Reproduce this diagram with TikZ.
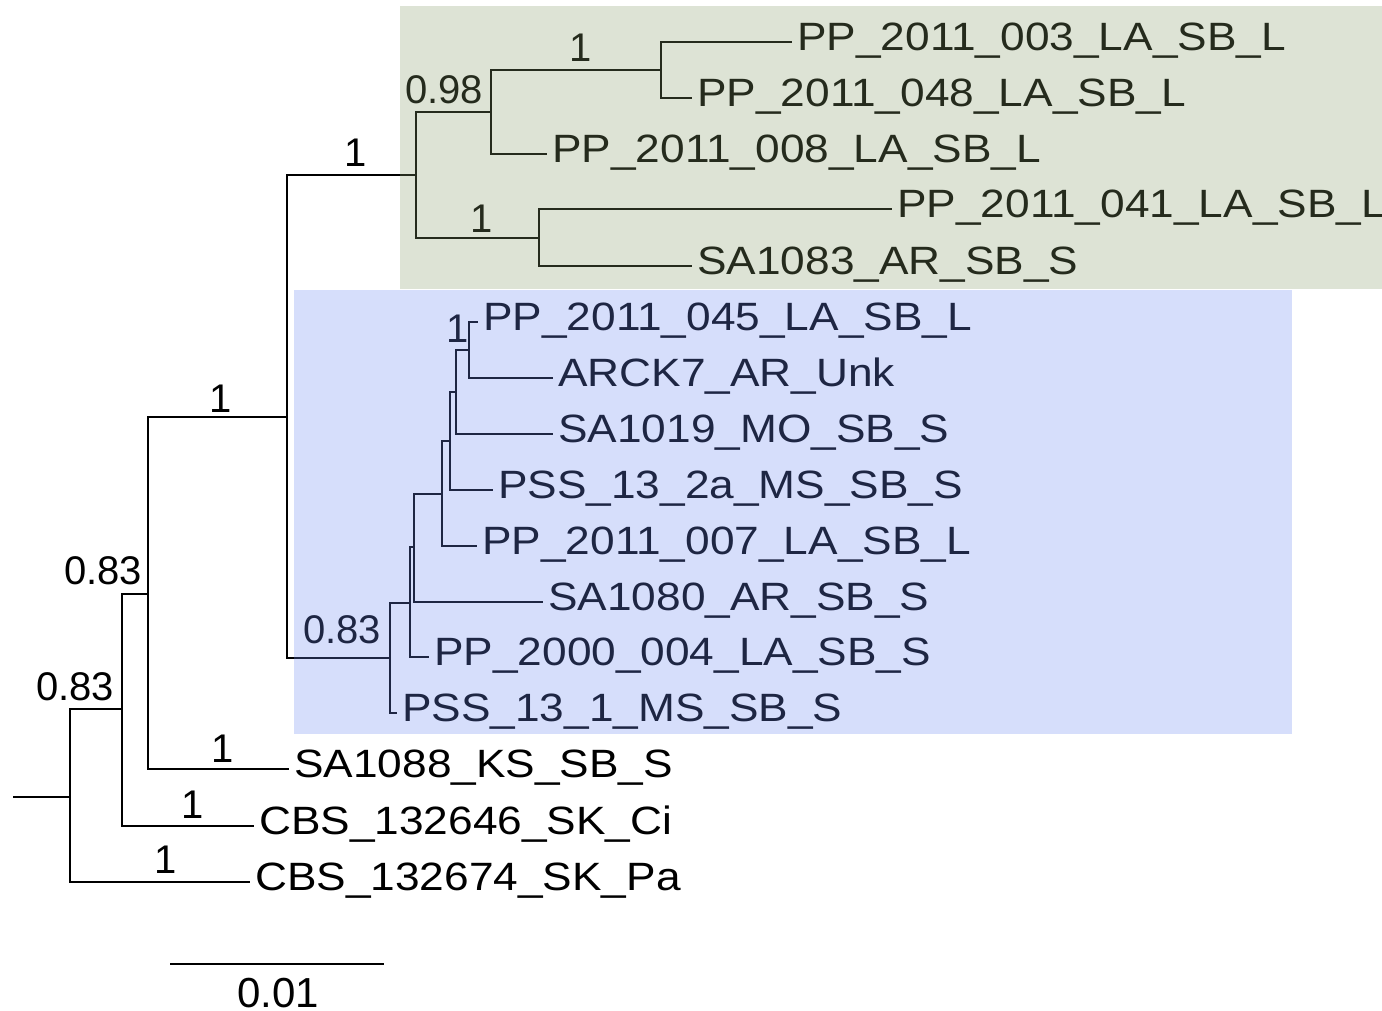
\documentclass[tikz,border=0pt]{standalone}
\usepackage{fontspec}
\setmainfont{Liberation Sans}
\newfontfamily\tipfont[FakeStretch=1.12]{Liberation Sans}
\definecolor{greenclade}{RGB}{134,155,105}
\definecolor{blueclade}{RGB}{109,137,244}
\begin{document}
\begin{tikzpicture}[x=1pt,y=-1pt,
  branch/.style={line width=1.8pt},
  tip/.style={anchor=west, font=\tipfont\fontsize{39.5}{40}\selectfont, inner xsep=5pt, inner ysep=0pt, text height=17pt, text depth=0pt},
  support/.style={anchor=base, font=\fontsize{40}{40}\selectfont, inner sep=0pt},
  scalelabel/.style={anchor=base, font=\fontsize{42}{42}\selectfont, inner sep=0pt},
  cladebox/.style={fill opacity=0.28, draw=none}
]
\useasboundingbox (0,0) rectangle (1382,1010);
\fill[white] (0,0) rectangle (1382,1010);

% internal nodes
\coordinate (root) at (13,797);
\coordinate (n1) at (70,797);
\coordinate (n2) at (122,709);
\coordinate (n3) at (148,594);
\coordinate (n4) at (287,417);
\coordinate (g)  at (416,175);
\coordinate (g1) at (491,112);
\coordinate (g2) at (661,70);
\coordinate (g3) at (539,238);
\coordinate (b)  at (390,658);
\coordinate (b1) at (410,603);
\coordinate (b2) at (414,547);
\coordinate (b3) at (442,494);
\coordinate (b4) at (450,441);
\coordinate (b5) at (456,392);
\coordinate (b6) at (469,350);

% tips
\node[tip] (t1)  at (792,42)  {PP\_2011\_003\_LA\_SB\_L};
\node[tip] (t2)  at (692,98)  {PP\_2011\_048\_LA\_SB\_L};
\node[tip] (t3)  at (547,154) {PP\_2011\_008\_LA\_SB\_L};
\node[tip] (t4)  at (892,209) {PP\_2011\_041\_LA\_SB\_L};
\node[tip] (t5)  at (692,266) {SA1083\_AR\_SB\_S};
\node[tip] (t6)  at (478,322) {PP\_2011\_045\_LA\_SB\_L};
\node[tip] (t7)  at (553,378) {ARCK7\_AR\_Unk};
\node[tip] (t8)  at (553,434) {SA1019\_MO\_SB\_S};
\node[tip] (t9)  at (493,490) {PSS\_13\_2a\_MS\_SB\_S};
\node[tip] (t10) at (477,546) {PP\_2011\_007\_LA\_SB\_L};
\node[tip] (t11) at (543,602) {SA1080\_AR\_SB\_S};
\node[tip] (t12) at (429,657) {PP\_2000\_004\_LA\_SB\_S};
\node[tip] (t13) at (397,713) {PSS\_13\_1\_MS\_SB\_S};
\node[tip] (t14) at (289,769) {SA1088\_KS\_SB\_S};
\node[tip] (t15) at (254,826) {CBS\_132646\_SK\_Ci};
\node[tip] (t16) at (250,882) {CBS\_132674\_SK\_Pa};

% branches
\draw[branch] (root) -- (n1);
\draw[branch] (n1) |- (n2);
\draw[branch] (n1) |- (t16.west);
\draw[branch] (n2) |- (n3);
\draw[branch] (n2) |- (t15.west);
\draw[branch] (n3) |- (n4);
\draw[branch] (n3) |- (t14.west);
\draw[branch] (n4) |- (g);
\draw[branch] (n4) |- (b);
\draw[branch] (g) |- (g1);
\draw[branch] (g) |- (g3);
\draw[branch] (g1) |- (g2);
\draw[branch] (g1) |- (t3.west);
\draw[branch] (g2) |- (t1.west);
\draw[branch] (g2) |- (t2.west);
\draw[branch] (g3) |- (t4.west);
\draw[branch] (g3) |- (t5.west);
\draw[branch] (b) |- (b1);
\draw[branch] (b) |- (t13.west);
\draw[branch] (b1) |- (b2);
\draw[branch] (b1) |- (t12.west);
\draw[branch] (b2) |- (b3);
\draw[branch] (b2) |- (t11.west);
\draw[branch] (b3) |- (b4);
\draw[branch] (b3) |- (t10.west);
\draw[branch] (b4) |- (b5);
\draw[branch] (b4) |- (t9.west);
\draw[branch] (b5) |- (b6);
\draw[branch] (b5) |- (t8.west);
\draw[branch] (b6) |- (t6.west);
\draw[branch] (b6) |- (t7.west);

% support values
\node[support] (s1)  at (356,166) {1};
\node[support] (s2)  at (444,103) {0.98};
\node[support] (s3)  at (581,61)  {1};
\node[support] (s4)  at (482,232) {1};
\node[support] (s5)  at (458,342) {1};
\node[support] (s6)  at (342,643) {0.83};
\node[support] (s7)  at (221,412) {1};
\node[support] (s8)  at (103,584) {0.83};
\node[support] (s9)  at (75,700)  {0.83};
\node[support] (s10) at (223,762) {1};
\node[support] (s11) at (193,818) {1};
\node[support] (s12) at (166,873) {1};

% scale bar
\coordinate (sbL) at (170,964);
\coordinate (sbR) at (384,964);
\draw[branch] (sbL) -- (sbR);
\node[scalelabel] (sbtext) at (278,1007) {0.01};

% clade highlights
\fill[greenclade, cladebox] (400,6) rectangle (1382,289);
\fill[blueclade, cladebox] (294,290) rectangle (1292,734);
\end{tikzpicture}
\end{document}
